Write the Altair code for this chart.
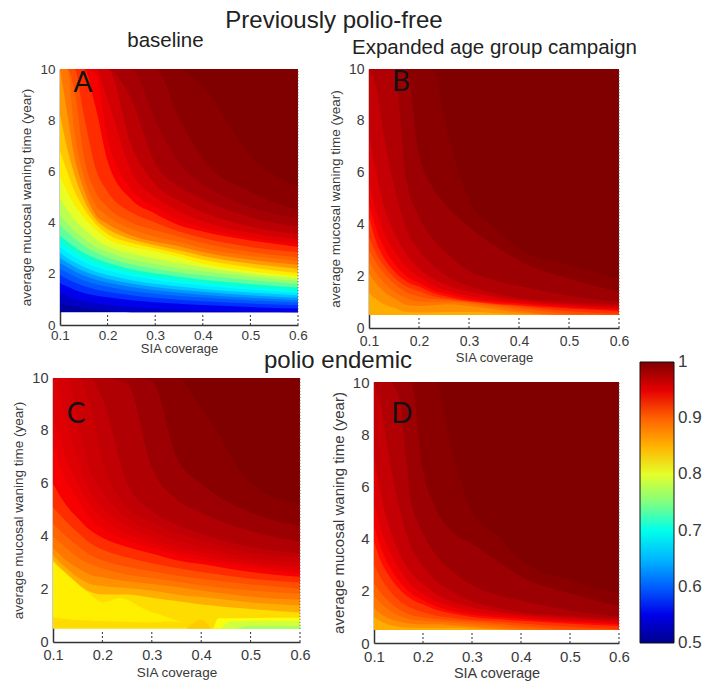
import altair as alt
import pandas as pd

# Jet colour ramp
stops = [.5, .5625, .625, .6875, .75, .8125, .875, .9375, 1]
jet = ["#00008f", "#0000ff", "#0080ff", "#00ffff", "#80ff80", "#ffff00", "#ff8000", "#ff0000", "#800000"]

# Each panel: contour levels of the colour value, and the waning time at which
# each contour crosses the listed SIA coverages.
A_X = [.1, .115, .13, .15, .175, .2, .25, .3, .35, .4, .5, .6]
A_levels = [.5, .52, .54, .5625, .585, .605, .625, .645, .665, .6875, .705, .725, .75, .77, .79, .8125,
            .83, .85, .875, .89, .905, .92, .9375, .945, .955, .965, .975, .985, .99, 1.0]
A_curves = [
    [.5, .5, .5, .5, .5, .5, .5, .5, .5, .5, .5, .5],
    [.85, .78, .72, .67, .62, .57, .5, .5, .5, .5, .5, .5],
    [1.25, 1.12, 1.02, .93, .85, .78, .7, .64, .6, .57, .52, .5],
    [1.63, 1.5, 1.38, 1.25, 1.15, 1.08, .97, .89, .83, .78, .7, .64],
    [1.95, 1.8, 1.67, 1.52, 1.39, 1.3, 1.16, 1.06, .99, .93, .84, .77],
    [2.2, 2.05, 1.9, 1.74, 1.6, 1.49, 1.33, 1.22, 1.13, 1.07, .96, .88],
    [2.42, 2.26, 2.1, 1.93, 1.77, 1.66, 1.48, 1.36, 1.26, 1.18, 1.06, .97],
    [2.62, 2.44, 2.28, 2.1, 1.93, 1.8, 1.62, 1.48, 1.38, 1.3, 1.16, 1.06],
    [2.82, 2.62, 2.46, 2.27, 2.08, 1.95, 1.75, 1.61, 1.5, 1.41, 1.27, 1.16],
    [3.06, 2.85, 2.67, 2.47, 2.27, 2.13, 1.91, 1.76, 1.63, 1.53, 1.38, 1.26],
    [3.25, 3.03, 2.84, 2.63, 2.42, 2.27, 2.04, 1.88, 1.75, 1.65, 1.48, 1.35],
    [3.5, 3.26, 3.05, 2.82, 2.6, 2.43, 2.18, 2.02, 1.88, 1.77, 1.6, 1.46],
    [3.9, 3.63, 3.38, 3.1, 2.83, 2.64, 2.37, 2.2, 2.05, 1.94, 1.75, 1.6],
    [4.3, 3.98, 3.68, 3.37, 3.05, 2.85, 2.56, 2.38, 2.22, 2.1, 1.89, 1.72],
    [4.95, 4.5, 4.12, 3.76, 3.35, 3.08, 2.79, 2.6, 2.42, 2.26, 2.0, 1.82],
    [5.83, 5.2, 4.7, 4.2, 3.72, 3.36, 3.05, 2.87, 2.65, 2.4, 2.1, 1.9],
    [6.8, 6.0, 5.25, 4.55, 3.95, 3.55, 3.2, 3.0, 2.78, 2.55, 2.25, 2.03],
    [8.2, 6.9, 5.9, 4.9, 4.12, 3.75, 3.35, 3.12, 2.92, 2.7, 2.4, 2.2],
    [10, 8.3, 6.6, 5.3, 4.3, 3.95, 3.5, 3.25, 3.08, 2.85, 2.55, 2.35],
    [10, 10, 7.6, 5.8, 4.7, 4.25, 3.75, 3.45, 3.25, 3.0, 2.7, 2.5],
    [10, 10, 9.2, 6.6, 5.2, 4.6, 4.0, 3.7, 3.45, 3.2, 2.85, 2.65],
    [10, 10, 10, 8.2, 6.1, 5.2, 4.4, 4.0, 3.65, 3.4, 3.05, 2.85],
    [10, 10, 10, 10, 8.5, 6.4, 4.9, 4.35, 3.9, 3.65, 3.3, 3.05],
    [10, 10, 10, 10, 9.8, 7.3, 5.3, 4.6, 4.1, 3.8, 3.42, 3.17],
    [10, 10, 10, 10, 10, 8.8, 6.0, 5.0, 4.45, 4.05, 3.6, 3.35],
    [10, 10, 10, 10, 10, 10, 7.0, 5.5, 4.85, 4.4, 3.85, 3.55],
    [10, 10, 10, 10, 10, 10, 8.8, 6.3, 5.4, 4.9, 4.2, 3.85],
    [10, 10, 10, 10, 10, 10, 10, 8.0, 6.3, 5.5, 4.6, 4.15],
    [10, 10, 10, 10, 10, 10, 10, 10, 8.1, 6.5, 5.2, 4.5],
    [10, 10, 10, 10, 10, 10, 10, 10, 10, 9.3, 6.6, 5.4],
]

B_X = [.1, .115, .13, .15, .175, .2, .225, .26, .3, .35, .4, .5, .6]
B_levels = [.845, .86, .875, .89, .905, .92, .9325, .94, .95, .96, .97, .98, .99, 1.0]
B_curves = [
    [.5, .5, .5, .5, .5, .5, .5, .5, .5, .5, .5, .5, .5],
    [1.35, 1.1, .92, .78, .62, .6, .6, .62, .62, .58, .52, .5, .5],
    [2.1, 1.7, 1.4, 1.15, .9, .85, .88, .92, .85, .72, .6, .5, .5],
    [2.55, 2.1, 1.75, 1.42, 1.15, 1.02, 1.0, 1.0, .95, .82, .68, .5, .5],
    [3.0, 2.5, 2.1, 1.72, 1.38, 1.22, 1.12, 1.08, 1.0, .9, .78, .55, .5],
    [3.5, 2.85, 2.4, 1.95, 1.6, 1.42, 1.25, 1.12, 1.02, .93, .85, .65, .55],
    [4.3, 3.3, 2.7, 2.2, 1.8, 1.6, 1.38, 1.2, 1.05, .95, .88, .75, .65],
    [4.8, 3.8, 3.1, 2.5, 2.0, 1.75, 1.5, 1.3, 1.13, 1.02, .95, .8, .7],
    [5.6, 4.5, 3.7, 3.0, 2.35, 1.98, 1.68, 1.43, 1.25, 1.1, 1.0, .86, .76],
    [7.5, 5.9, 4.7, 3.7, 2.85, 2.3, 1.95, 1.62, 1.4, 1.22, 1.08, .92, .82],
    [10, 9.2, 7.4, 5.5, 3.8, 3.0, 2.45, 1.95, 1.62, 1.35, 1.15, 1.0, .9],
    [10, 10, 10, 10, 5.7, 4.3, 3.5, 2.8, 2.2, 1.85, 1.62, 1.25, 1.0],
    [10, 10, 10, 10, 10, 6.7, 5.5, 4.6, 3.9, 3.2, 2.6, 1.9, 1.4],
    [10, 10, 10, 10, 10, 10, 10, 7.3, 4.95, 3.9, 3.05, 2.4, 1.9],
]

C_X = [.1, .115, .13, .15, .175, .2, .25, .3, .35, .4, .5, .6]
C_levels = [.815, .845, .86, .875, .89, .905, .92, .9375, .945, .95, .955, .96, .965, .97, .98, .99, 1.0]
C_curves = [
    [.5, .5, .5, .5, .5, .5, .5, .5, .5, .5, .5, .5],
    [3.1, 2.8, 2.55, 2.2, 1.9, 1.8, 1.8, 1.68, 1.55, 1.42, 1.25, 1.12],
    [3.3, 3.0, 2.75, 2.45, 2.2, 2.12, 2.05, 1.95, 1.8, 1.7, 1.5, 1.38],
    [3.55, 3.3, 3.05, 2.8, 2.55, 2.45, 2.3, 2.2, 2.08, 1.95, 1.72, 1.6],
    [4.0, 3.75, 3.5, 3.2, 2.95, 2.78, 2.55, 2.42, 2.28, 2.15, 1.95, 1.82],
    [4.5, 4.2, 3.95, 3.65, 3.3, 3.1, 2.85, 2.68, 2.52, 2.4, 2.18, 2.02],
    [5.1, 4.8, 4.5, 4.15, 3.75, 3.5, 3.2, 2.98, 2.8, 2.65, 2.4, 2.25],
    [6.0, 5.5, 5.1, 4.7, 4.24, 3.95, 3.6, 3.35, 3.1, 2.95, 2.65, 2.47],
    [7.5, 6.6, 6.0, 5.4, 4.7, 4.3, 3.85, 3.55, 3.3, 3.1, 2.8, 2.6],
    [8.5, 7.6, 6.8, 6.0, 5.2, 4.7, 4.1, 3.75, 3.45, 3.25, 2.92, 2.72],
    [10, 9.2, 8.2, 6.9, 5.7, 5.1, 4.4, 3.95, 3.6, 3.4, 3.05, 2.85],
    [10, 10, 10, 8.4, 6.5, 5.7, 4.7, 4.2, 3.85, 3.6, 3.2, 3.0],
    [10, 10, 10, 10, 9.0, 6.9, 5.1, 4.55, 4.15, 3.85, 3.4, 3.2],
    [10, 10, 10, 10, 10, 9.2, 6.0, 4.95, 4.45, 4.1, 3.6, 3.35],
    [10, 10, 10, 10, 10, 10, 9.8, 6.6, 5.4, 4.9, 4.2, 3.8],
    [10, 10, 10, 10, 10, 10, 10, 9.9, 7.0, 6.0, 4.9, 4.4],
    [10, 10, 10, 10, 10, 10, 10, 10, 10, 8.9, 6.0, 5.2],
]
# pockets low in panel C: level, coverage, lower and upper waning edge
C_pockets = [
    (.82, [.1, .134, .16, .185, .2, .235, .29, .337, .36],
     [.95, .85, .82, .8, .8, .78, .75, .78, .75], [3.0, 2.46, 2.04, 1.67, 1.5, 1.67, 1.2, .9, .75]),
    (.838, [.37, .4, .42], [.5, .5, .5], [.5, .85, .5]),
    (.81, [.425, .435, .6], [.5, .5, .5], [.5, .9, .92]),
    (.79, [.44, .46, .6], [.5, .5, .5], [.5, .78, .8]),
    (.77, [.47, .5, .55, .6], [.5, .5, .5, .5], [.5, .62, .62, .6]),
]

D_X = [.1, .115, .13, .15, .175, .2, .225, .26, .3, .35, .4, .5, .6]
D_levels = [.845, .86, .875, .89, .905, .92, .9325, .94, .95, .96, .97, .98, .99, 1.0]
D_curves = [
    [.5, .5, .5, .5, .5, .5, .5, .5, .5, .5, .5, .5, .5],
    [1.0, .82, .7, .62, .58, .58, .58, .58, .55, .52, .5, .5, .5],
    [1.35, 1.1, .95, .82, .74, .72, .72, .68, .62, .55, .5, .5, .5],
    [1.8, 1.5, 1.27, 1.05, .9, .85, .82, .78, .72, .65, .55, .5, .5],
    [2.3, 1.9, 1.6, 1.3, 1.08, .98, .92, .86, .8, .74, .65, .52, .5],
    [3.0, 2.45, 2.05, 1.65, 1.35, 1.18, 1.05, .96, .88, .82, .75, .62, .54],
    [3.9, 3.1, 2.6, 2.1, 1.7, 1.48, 1.28, 1.12, 1.0, .92, .85, .74, .65],
    [4.5, 3.6, 3.0, 2.4, 1.92, 1.65, 1.42, 1.22, 1.08, 1.0, .92, .8, .72],
    [5.4, 4.3, 3.6, 2.9, 2.25, 1.9, 1.62, 1.38, 1.2, 1.08, 1.0, .88, .78],
    [7.2, 5.6, 4.5, 3.5, 2.7, 2.25, 1.9, 1.58, 1.37, 1.2, 1.08, .95, .85],
    [10, 9.0, 7.2, 5.3, 3.7, 2.95, 2.4, 1.95, 1.6, 1.35, 1.18, 1.02, .93],
    [10, 10, 10, 9.5, 5.5, 4.2, 3.4, 2.75, 2.2, 1.85, 1.62, 1.25, 1.02],
    [10, 10, 10, 10, 10, 6.6, 5.2, 4.25, 3.8, 3.15, 2.55, 1.9, 1.42],
    [10, 10, 10, 10, 10, 10, 10, 7.3, 5.0, 4.15, 3.15, 2.4, 1.9],
]

xticks = [.1, .2, .3, .4, .5, .6]
yticks = [0, 2, 4, 6, 8, 10]
minor_x = [.2, .3, .4, .5, .6]
legend_ticks = [.6, .7, .8, .9]

FONT = "Liberation Sans"
GREY = "#3a3a3a"

color_enc = alt.Color(
    "shade:Q",
    scale=alt.Scale(domain=stops, range=jet),
    legend=alt.Legend(
        orient="none", legendX=632, legendY=354, gradientLength=281, gradientThickness=34,
        title=None, values=legend_ticks, format=".1f", labelFontSize=17, labelFont=FONT,
        labelColor=GREY, gradientStrokeColor="#111", gradientStrokeWidth=1, direction="vertical",
        labelOffset=4,
    ),
)


def rows(levels, curves, xs):
    # a band between two contours is shaded with the value midway between them
    out = []
    for i, (lev, cur) in enumerate(zip(levels, curves)):
        nxt = levels[i + 1] if i + 1 < len(levels) else lev
        for x, y in zip(xs, cur):
            out.append({"level": lev, "shade": (lev + nxt) / 2, "x": x, "lo": y, "top": 10})
    return out


def patch(level, xs, lo, hi):
    return [{"level": level, "shade": level, "x": x, "lo": a, "top": b} for x, a, b in zip(xs, lo, hi)]


def panel(data, xr, yr, tick_size, title_size, tpad_y, tpad_x, xpad):
    sx = alt.Scale(domain=[.1, .6], range=xr, nice=False, zero=False)
    sy = alt.Scale(domain=[0, 10], range=yr, nice=False, zero=False)
    xaxis = alt.Axis(
        orient="bottom", offset=yr[0] - 674, values=xticks, format=".1f", ticks=False, grid=False,
        domainColor="#333", domainWidth=1.5, labelColor=GREY, labelFontSize=tick_size, labelFont=FONT,
        labelPadding=xpad, labelFlush=False, title="SIA coverage", titleFont=FONT,
        titleFontSize=title_size[0], titleFontWeight="normal", titleColor=GREY, titlePadding=tpad_x,
    )
    yaxis = alt.Axis(
        orient="left", offset=-xr[0], values=yticks, ticks=False, grid=False, domainColor="#333",
        domainWidth=1.5, labelColor=GREY, labelFontSize=tick_size, labelFont=FONT, labelPadding=5,
        labelFlush=False, title="average mucosal waning time (year)", titleFont=FONT,
        titleFontSize=title_size[1], titleFontWeight="normal", titleColor=GREY, titlePadding=tpad_y,
    )
    area = alt.Chart(pd.DataFrame(data)).mark_area(interpolate="monotone").encode(
        x=alt.X("x:Q", scale=sx, axis=xaxis),
        y=alt.Y("lo:Q", scale=sy, axis=yaxis, stack=None),
        y2="top:Q",
        color=color_enc,
        detail="level:N",
    )
    ticks = alt.Chart(pd.DataFrame({"x": minor_x})).transform_calculate(a="0", b="0.45").mark_rule(
        color="#333", strokeDash=[2, 2], strokeWidth=1
    ).encode(x=alt.X("x:Q", scale=sx, axis=None), y=alt.Y("a:Q", scale=sy, axis=None), y2="b:Q")
    edge = alt.Chart(pd.DataFrame({"x": [.6]})).transform_calculate(a="0.5", b="10").mark_rule(
        color="#555555", strokeDash=[1, 2], strokeWidth=1
    ).encode(x=alt.X("x:Q", scale=sx, axis=None), y=alt.Y("a:Q", scale=sy, axis=None), y2="b:Q")
    return [area, ticks, edge]


C_data = rows(C_levels, C_curves, C_X)
for lev, xs, lo, hi in C_pockets:
    C_data += patch(lev, xs, lo, hi)

A = panel(rows(A_levels, A_curves, A_X), [52, 290], [317, 61], 13.5, (13, 13.5), 6, 1, 3)
B = panel(rows(B_levels, B_curves, B_X), [361, 611], [320, 61], 14, (13, 13.5), 6, 3, 6)
C = panel(C_data, [45, 292], [634, 370], 14.5, (13.5, 13.5), 6, 4, 6)
D = panel(rows(D_levels, D_curves, D_X), [366, 611], [635, 374], 15, (14.5, 15), 6, 2, 6)

# small marks on the colour bar
bar_scale = alt.Scale(domain=[.5, 1], range=[635, 354], nice=False, zero=False)
bar_df = pd.DataFrame({"v": legend_ticks})
bar_ticks = [
    alt.Chart(bar_df).mark_rule(color="#111", strokeWidth=1).encode(
        x=alt.value(a), x2=alt.value(b), y=alt.Y("v:Q", scale=bar_scale, axis=None)
    )
    for a, b in [(632, 635), (663, 666)]
]

# free-standing texts
titles = ["Previously polio-free", "baseline", "Expanded age group campaign", "polio endemic"]
title_x = [326, 157.5, 486.5, 330]
title_y = [13, 33, 40, 353]
title_size = [24, 20.5, 20.5, 24]
letters = ["A", "B", "C", "D"]
letter_x = [75, 393, 68, 394]
letter_y = [76, 75, 407, 407]
bar_ends = ["1", "0.5"]
bar_end_y = [354, 635]


def label(text, x, y, size, font=FONT, color="#222", align="center"):
    return alt.Chart(pd.DataFrame({"t": [text]})).mark_text(
        font=font, fontSize=size, color=color, align=align, baseline="middle"
    ).encode(x=alt.value(x), y=alt.value(y), text="t:N")


texts = [label(t, x, y, s) for t, x, y, s in zip(titles, title_x, title_y, title_size)]
texts += [label(t, x, y, 28, font="Lato", color="#111") for t, x, y in zip(letters, letter_x, letter_y)]
texts += [label(t, 670, y, 17, color=GREY, align="left") for t, y in zip(bar_ends, bar_end_y)]

chart = alt.layer(*A, *B, *C, *D, *bar_ticks, *texts).resolve_scale(x="independent", y="independent").resolve_axis(
    x="independent", y="independent"
).properties(
    width=702, height=674, padding=0, autosize=alt.AutoSizeParams(type="none")
).configure_view(stroke=None)

chart.save("out.html", embed_options={"renderer": "svg", "actions": False})
